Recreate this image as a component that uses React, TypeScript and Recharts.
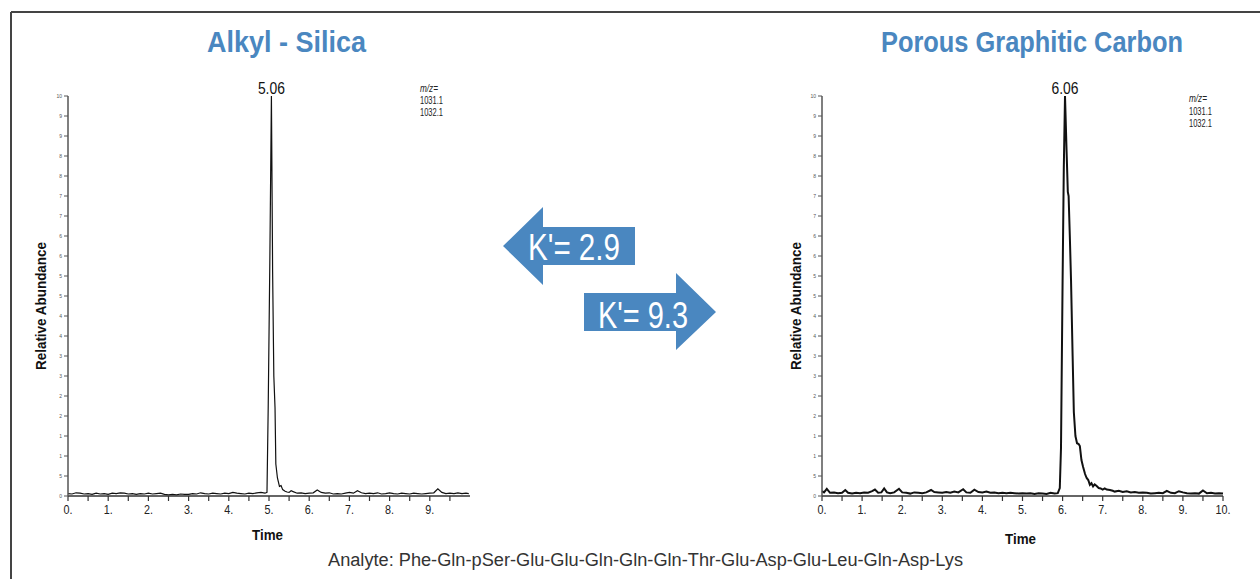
import React from 'react';
import { LineChart, Line, XAxis, YAxis, ReferenceDot } from 'recharts';

// Alkyl-Silica trace (time in min, relative abundance in %)
const SILICA_TIME = [
  0.0, 0.1, 0.2, 0.3, 0.4, 0.5, 0.6, 0.7, 0.8, 0.9, 1.0, 1.1, 1.2, 1.3, 1.4, 1.5, 1.6, 1.7, 1.8, 1.9,
  2.0, 2.1, 2.2, 2.3, 2.4, 2.5, 2.6, 2.7, 2.8, 2.9, 3.0, 3.1, 3.2, 3.3, 3.4, 3.5, 3.6, 3.7, 3.8, 3.9,
  4.0, 4.1, 4.2, 4.3, 4.4, 4.5, 4.6, 4.7, 4.8, 4.9, 4.95, 4.98, 5.02, 5.06, 5.09, 5.12, 5.15, 5.17,
  5.21, 5.26, 5.3, 5.34, 5.4, 5.45, 5.5, 5.55, 5.6, 5.7, 5.8, 5.9, 6.0, 6.1, 6.2, 6.3, 6.4, 6.5, 6.6,
  6.7, 6.8, 6.9, 7.0, 7.1, 7.2, 7.3, 7.4, 7.5, 7.6, 7.7, 7.8, 7.9, 8.0, 8.1, 8.2, 8.3, 8.4, 8.5, 8.6,
  8.7, 8.8, 8.9, 9.0, 9.1, 9.2, 9.3, 9.4, 9.5, 9.6, 9.7, 9.8, 9.9, 9.97,
];
const SILICA_ABUNDANCE = [
  0.6, 0.5, 0.8, 0.7, 0.5, 0.6, 0.4, 0.7, 0.5, 0.6, 0.4, 0.7, 0.6, 0.8, 0.7, 0.5, 0.6, 0.4, 0.6, 0.5,
  0.7, 0.5, 0.6, 0.7, 0.4, 0.3, 0.4, 0.3, 0.5, 0.4, 0.4, 0.6, 0.5, 0.8, 0.6, 0.5, 0.7, 0.6, 0.5, 0.7,
  0.6, 0.9, 0.7, 0.6, 0.5, 0.7, 0.6, 0.8, 0.9, 0.7, 0.9, 22, 58, 100, 56, 30, 22, 8,
  4.5, 2.4, 2.6, 1.6, 1.2, 1.0, 0.9, 1.3, 1.1, 0.7, 0.8, 0.6, 0.7, 0.8, 1.5, 0.9, 0.7, 0.8, 0.5,
  0.6, 0.5, 0.7, 0.9, 0.7, 1.3, 0.8, 0.6, 0.7, 0.6, 0.8, 0.5, 0.6, 0.8, 0.6, 0.5, 0.7, 0.6, 0.5, 0.7,
  0.6, 0.5, 0.6, 0.7, 0.8, 1.8, 0.9, 0.6, 0.7, 0.6, 0.8, 0.6, 0.7, 0.6,
];

// Porous Graphitic Carbon trace
const PGC_TIME = [
  0.0, 0.05, 0.12, 0.2, 0.3, 0.4, 0.5, 0.58, 0.65, 0.75, 0.85, 0.95, 1.05, 1.15, 1.25, 1.32, 1.4, 1.48,
  1.55, 1.62, 1.7, 1.8, 1.92, 2.0, 2.1, 2.2, 2.3, 2.4, 2.5, 2.6, 2.72, 2.8, 2.9, 3.0, 3.1, 3.2, 3.3,
  3.4, 3.52, 3.6, 3.7, 3.8, 3.9, 4.0, 4.1, 4.2, 4.3, 4.4, 4.5, 4.6, 4.7, 4.8, 4.9, 5.0, 5.1, 5.2, 5.3,
  5.4, 5.5, 5.6, 5.7, 5.8, 5.88, 5.93, 5.96, 6.0, 6.03, 6.06, 6.1, 6.13, 6.15, 6.18, 6.21, 6.25, 6.28,
  6.32, 6.36, 6.4, 6.43, 6.47, 6.51, 6.56, 6.6, 6.64, 6.68, 6.72, 6.76, 6.8, 6.85, 6.9, 6.95, 7.0,
  7.05, 7.1, 7.18, 7.25, 7.3, 7.4, 7.5, 7.6, 7.7, 7.8, 7.9, 8.0, 8.1, 8.2, 8.3, 8.4, 8.5, 8.6, 8.7,
  8.8, 8.9, 9.0, 9.1, 9.2, 9.3, 9.4, 9.5, 9.6, 9.7, 9.8, 9.9, 10.0,
];
const PGC_ABUNDANCE = [
  1.2, 0.9, 1.8, 0.8, 0.9, 0.7, 0.8, 1.5, 0.8, 0.6, 0.8, 0.7, 0.9, 0.8, 1.2, 1.6, 0.8, 0.9,
  1.9, 0.9, 0.7, 0.9, 1.8, 0.9, 0.8, 0.6, 0.9, 0.8, 0.7, 0.9, 1.5, 1.0, 0.9, 0.8, 1.0, 0.8, 1.1,
  0.9, 1.7, 0.9, 0.8, 1.6, 1.0, 0.9, 1.1, 0.8, 0.9, 0.7, 0.8, 0.7, 0.8, 0.7, 0.6, 0.7, 0.6, 0.7, 0.5,
  0.7, 0.6, 0.5, 0.8, 0.6, 0.7, 2, 12, 54, 82, 100, 86, 76, 75, 65, 54, 35, 21,
  15, 13.2, 13.0, 12.5, 9, 7.3, 5.5, 4.5, 4.0, 2.8, 3.2, 2.4, 2.9, 2.5, 2.0, 1.9, 1.6,
  1.9, 1.6, 1.5, 1.3, 1.1, 1.3, 1.0, 1.2, 0.9, 1.0, 0.8, 0.9, 0.8, 0.6, 0.7, 0.8, 0.7, 1.3, 0.8,
  0.7, 1.2, 0.9, 0.7, 0.6, 0.7, 0.6, 1.4, 0.7, 0.8, 0.6, 0.7, 0.6,
];

const SILICA_X_TICKS = [0, 0.5, 1, 1.5, 2, 2.5, 3, 3.5, 4, 4.5, 5, 5.5, 6, 6.5, 7, 7.5, 8, 8.5, 9, 9.5];
const PGC_X_TICKS = [0, 0.5, 1, 1.5, 2, 2.5, 3, 3.5, 4, 4.5, 5, 5.5, 6, 6.5, 7, 7.5, 8, 8.5, 9, 9.5, 10];
const Y_TICKS = [0, 5, 10, 15, 20, 25, 30, 35, 40, 45, 50, 55, 60, 65, 70, 75, 80, 85, 90, 95, 100];
const MZ_LINES = ['m/z=', '1031.1', '1032.1'];

const SANS = '"Liberation Sans", Arial, Helvetica, sans-serif';
const BLUE = '#4a87c0';

const silicaData = SILICA_TIME.map((t, i) => ({ t, v: SILICA_ABUNDANCE[i] }));
const pgcData = PGC_TIME.map((t, i) => ({ t, v: PGC_ABUNDANCE[i] }));

// the instrument printout truncates the y labels to their first digits
const yTickFmt = (v: number) => {
  if (v === 100) return '10';
  if (v === 0) return '0';
  if (v === 5) return '5';
  return String(Math.floor(v / 10));
};
const xTickFmt = (v: number) => (Number.isInteger(v) ? `${v}.` : '');

// narrow tick label: squeeze the glyphs like the condensed face of the original
const XTick = (props: any) => {
  const { x, y, payload } = props;
  const s = xTickFmt(payload.value);
  if (!s) return null;
  return (
    <text x={x} y={y + 11} textAnchor="middle" fontFamily={SANS} fontSize={13} fill="#222"
      textLength={s.length > 2 ? 15 : 9} lengthAdjust="spacingAndGlyphs">
      {s}
    </text>
  );
};

function Chromatogram({
  data,
  ticks,
  peak,
  left,
  marginLeft,
  marginRight,
  strokeWidth,
}: {
  data: { t: number; v: number }[];
  ticks: number[];
  peak: number;
  left: number;
  marginLeft: number;
  marginRight: number;
  strokeWidth: number;
}) {
  return (
    <div style={{ position: 'absolute', left, top: 0 }}>
      <LineChart
        width={500}
        height={579}
        data={data}
        margin={{ top: 96, right: marginRight, left: marginLeft, bottom: 53 }}
      >
        <XAxis
          dataKey="t"
          type="number"
          domain={[0, 10]}
          ticks={ticks}
          interval={0}
          height={30}
          tickSize={5}
          tickMargin={2}
          axisLine={{ stroke: '#333', strokeWidth: 1.5 }}
          tickLine={{ stroke: '#333', strokeWidth: 1.2 }}
          tick={<XTick />}
        />
        <YAxis
          type="number"
          domain={[0, 100]}
          ticks={Y_TICKS}
          tickFormatter={yTickFmt}
          interval={0}
          width={20}
          tickSize={4}
          tickMargin={2}
          axisLine={{ stroke: '#555', strokeWidth: 1.5 }}
          tickLine={{ stroke: '#555', strokeWidth: 1 }}
          tick={{ fontSize: 5, fill: '#555', fontFamily: SANS }}
        />
        <Line
          dataKey="v"
          type="linear"
          stroke="#111"
          strokeWidth={strokeWidth}
          dot={false}
          isAnimationActive={false}
        />
        <ReferenceDot
          x={peak}
          y={100}
          r={0}
          stroke="none"
          fill="none"
          ifOverflow="visible"
          label={{
            value: peak.toFixed(2),
            position: 'top',
            offset: 2,
            fontSize: 16,
            fill: '#111',
            fontFamily: SANS,
            textLength: 27,
            lengthAdjust: 'spacingAndGlyphs',
          }}
        />
      </LineChart>
    </div>
  );
}

export default function App() {
  return (
    <div
      style={{
        position: 'absolute',
        left: 0,
        top: 0,
        width: 1260,
        height: 579,
        background: '#fff',
        overflow: 'hidden',
      }}
    >
      <Chromatogram data={silicaData} ticks={SILICA_X_TICKS} peak={5.06} left={0}
        marginLeft={48} marginRight={30} strokeWidth={1.2} />
      <Chromatogram data={pgcData} ticks={PGC_X_TICKS} peak={6.06} left={760}
        marginLeft={42} marginRight={37} strokeWidth={2} />

      <svg width={1260} height={579} style={{ position: 'absolute', left: 0, top: 0, pointerEvents: 'none' }}>
        <line x1={11} y1={12} x2={1260} y2={12} stroke="#444" strokeWidth={2} />
        <line x1={11} y1={12} x2={11} y2={579} stroke="#444" strokeWidth={2} />

        <text x={207} y={52} fontFamily={SANS} fontWeight="bold" fontSize={30} fill={BLUE}
          textLength={159} lengthAdjust="spacingAndGlyphs">
          Alkyl - Silica
        </text>
        <text x={881} y={52} fontFamily={SANS} fontWeight="bold" fontSize={30} fill={BLUE}
          textLength={302} lengthAdjust="spacingAndGlyphs">
          Porous Graphitic Carbon
        </text>

        {MZ_LINES.map((s, i) => (
          <text key={`l${i}`} x={420} y={92 + i * 12} fontFamily={SANS} fontSize={11} fill="#222"
            fontStyle={i === 0 ? 'italic' : 'normal'} textLength={i === 0 ? 18 : 23} lengthAdjust="spacingAndGlyphs">
            {s}
          </text>
        ))}
        {MZ_LINES.map((s, i) => (
          <text key={`r${i}`} x={1189} y={102 + i * 12.5} fontFamily={SANS} fontSize={11} fill="#222"
            fontStyle={i === 0 ? 'italic' : 'normal'} textLength={i === 0 ? 18 : 23} lengthAdjust="spacingAndGlyphs">
            {s}
          </text>
        ))}

        <text transform="translate(46,370) rotate(-90)" fontFamily={SANS}
          fontWeight="bold" fontSize={14} fill="#111" textLength={128} lengthAdjust="spacingAndGlyphs">
          Relative Abundance
        </text>
        <text transform="translate(801,370) rotate(-90)" fontFamily={SANS}
          fontWeight="bold" fontSize={14} fill="#111" textLength={128} lengthAdjust="spacingAndGlyphs">
          Relative Abundance
        </text>
        <text x={252} y={540} fontFamily={SANS} fontWeight="bold" fontSize={15} fill="#111"
          textLength={31} lengthAdjust="spacingAndGlyphs">
          Time
        </text>
        <text x={1005} y={544} fontFamily={SANS} fontWeight="bold" fontSize={15} fill="#111"
          textLength={31} lengthAdjust="spacingAndGlyphs">
          Time
        </text>

        <polygon points="503,246 543,207 543,227 635,227 635,265 543,265 543,285" fill={BLUE} />
        <text x={528} y={260} fontFamily={SANS} fontSize={37} fill="#fff"
          textLength={92} lengthAdjust="spacingAndGlyphs">
          K'= 2.9
        </text>
        <polygon points="716,312 676,273 676,293 584,293 584,331 676,331 676,350" fill={BLUE} />
        <text x={598} y={328} fontFamily={SANS} fontSize={37} fill="#fff"
          textLength={90} lengthAdjust="spacingAndGlyphs">
          K'= 9.3
        </text>

        <text x={328} y={566} fontFamily={SANS} fontSize={18} fill="#333"
          textLength={635} lengthAdjust="spacingAndGlyphs">
          Analyte: Phe-Gln-pSer-Glu-Glu-Gln-Gln-Gln-Thr-Glu-Asp-Glu-Leu-Gln-Asp-Lys
        </text>
      </svg>
    </div>
  );
}
